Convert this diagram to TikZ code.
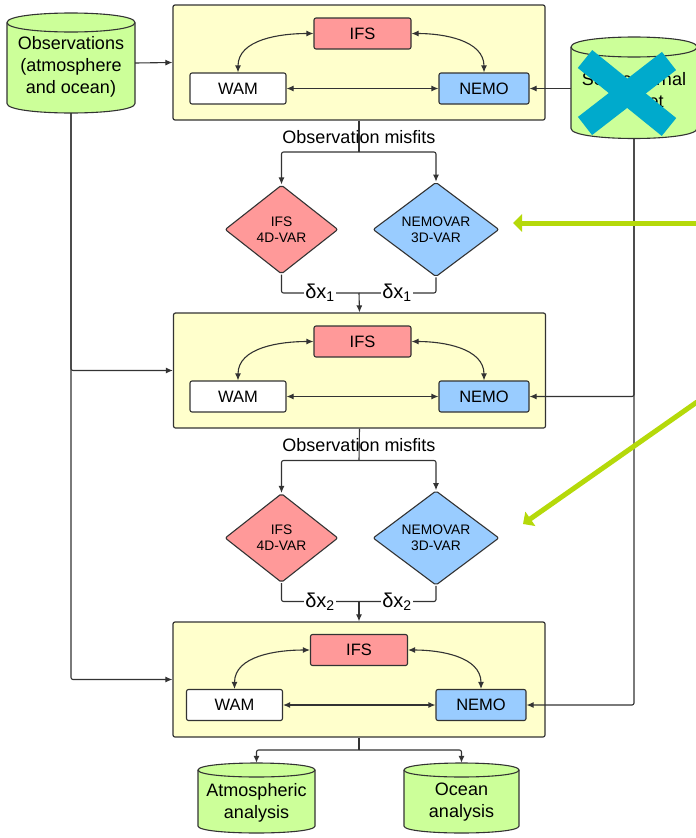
\documentclass[tikz,border=0pt]{standalone}
\usepackage{fontspec}
\setmainfont{Liberation Sans}
\usetikzlibrary{shapes.geometric,arrows.meta}
\definecolor{boxyellow}{HTML}{FFFFCC}
\definecolor{ifsred}{HTML}{FF9999}
\definecolor{nemoblue}{HTML}{99CCFF}
\definecolor{cylgreen}{HTML}{CCFF99}
\definecolor{linegray}{HTML}{333333}
\definecolor{hintgreen}{HTML}{B5D90A}
\definecolor{crossblue}{HTML}{00AACC}
\newcommand\drawcyl[5]{%
  \path[draw=linegray,fill=cylgreen,line width=1.1pt] (#1,#3) -- (#1,#4) .. controls (#1,#4+1.333*#5) and (#2,#4+1.333*#5) .. (#2,#4) -- (#2,#3) .. controls (#2,#3-1.333*#5) and (#1,#3-1.333*#5) .. (#1,#3) -- cycle;
  \draw[draw=linegray,line width=1.1pt] (#1,#3) .. controls (#1,#3+1.333*#5) and (#2,#3+1.333*#5) .. (#2,#3);}
\begin{document}
\begin{tikzpicture}[x=1pt,y=-1pt,
  frame/.style={draw=linegray, fill=boxyellow, rounded corners=2pt, line width=1.2pt, minimum width=372pt, minimum height=115pt, inner sep=0pt},
  model/.style={draw=linegray, rounded corners=2pt, line width=1.1pt, minimum height=31pt, font=\fontsize{16.5}{18}\selectfont, inner sep=0pt},
  ifsbox/.style={model, fill=ifsred, minimum width=97pt},
  wambox/.style={model, fill=white, minimum width=96pt},
  nemobox/.style={model, fill=nemoblue, minimum width=90pt},
  var/.style={diamond, draw=linegray, line width=1.1pt, minimum height=89pt, font=\fontsize{13.8}{16}\selectfont, align=center, inner sep=0pt, rounded corners=2pt},
  conn/.style={draw=linegray, line width=1.1pt, rounded corners=2pt},
  arr/.style={conn, -{Latex[length=7pt,width=6pt]}},
  dbl/.style={conn, {Latex[length=7pt,width=6pt]}-{Latex[length=7pt,width=6pt]}},
  big/.style={font=\fontsize{18}{22}\selectfont},
  cyltext/.style={big, align=center, inner sep=0pt},
  hold/.style={inner sep=0pt},
  dlabel/.style={font=\fontsize{20}{22}\selectfont, fill=white, inner sep=1.5pt},
  hint/.style={draw=hintgreen, line width=5pt, -{Triangle[length=9pt,width=17pt]}}
]
\useasboundingbox (0,0) rectangle (696,838);

% cylinders
\drawcyl{7}{135}{22.5}{103.5}{9.5}
\drawcyl{571}{697}{47}{128.5}{10}
\drawcyl{198}{315}{770}{826}{7}
\drawcyl{404}{519}{770}{826}{7}

\node[hold, minimum width=128pt, minimum height=100pt] (obs) at (71,63) {};
\node[cyltext] (obstext) at (71,66.5) {Observations\\(atmosphere\\and ocean)};
\node[hold, minimum width=126pt, minimum height=100pt] (ext) at (634,88) {};
\node[cyltext] (exttext) at (634,90.5) {SST external\\dataset};
\node[hold, minimum width=117pt, minimum height=75pt] (atm) at (256.5,800.5) {};
\node[cyltext] (atmtext) at (256.5,802.5) {Atmospheric\\analysis};
\node[hold, minimum width=115pt, minimum height=75pt] (ocn) at (461.5,800.5) {};
\node[cyltext] (ocntext) at (461.5,802.5) {Ocean\\analysis};

% cross over external dataset
\draw[crossblue, line width=23pt] (585,59) -- (669,127);
\draw[crossblue, line width=23pt] (669,61) -- (585,126);

% frames
\node[frame] (b1) at (359,62.5) {};
\node[frame] (b2) at (359.5,370.5) {};
\node[frame] (b3) at (359,679.5) {};

% models
\node[ifsbox] (ifs1) at (362.5,33.5) {IFS};
\node[wambox] (wam1) at (238,88.5) {WAM};
\node[nemobox] (nemo1) at (484,88.5) {NEMO};
\node[ifsbox] (ifs2) at (362.5,341.5) {IFS};
\node[wambox] (wam2) at (238,396.5) {WAM};
\node[nemobox] (nemo2) at (484,396.5) {NEMO};
\node[ifsbox] (ifs3) at (359,650) {IFS};
\node[wambox] (wam3) at (234.5,705) {WAM};
\node[nemobox] (nemo3) at (481,705) {NEMO};

\foreach \k in {1,2,3}{
  \draw[dbl] (ifs\k.west) to[out=180,in=90] (wam\k.north);
  \draw[dbl] (ifs\k.east) to[out=0,in=90] (nemo\k.north);
  \draw[dbl] (wam\k.east) -- (nemo\k.west);
}

% misfits labels
\coordinate (m1) at (359,152);
\coordinate (m2) at (359,460.5);

% diamonds
\node[var, fill=ifsred, minimum width=113pt] (d1a) at (281.5,229.5) {IFS\\4D-VAR};
\node[var, fill=nemoblue, minimum width=126pt] (d1b) at (436,229.5) {NEMOVAR\\3D-VAR};
\node[var, fill=ifsred, minimum width=113pt] (d2a) at (281.5,538) {IFS\\4D-VAR};
\node[var, fill=nemoblue, minimum width=126pt] (d2b) at (436,538) {NEMOVAR\\3D-VAR};

\coordinate (j1) at (359,293);
\coordinate (j2) at (359,601.5);
\coordinate (j5) at (359,750);

% box 1 -> diamonds -> box 2
\draw[conn] (b1.south) -- (m1);
\node[big] (mis1) at (359,137) {Observation misfits};
\draw[arr] (m1) -| (d1a.north);
\draw[arr] (m1) -| (d1b.north);
\draw[conn] (d1a.south) |- (j1);
\draw[conn] (d1b.south) |- (j1);
\draw[arr] (j1) -- (b2.north);
\node[dlabel] (l1a) at (320,293) {δx\textsubscript{1}};
\node[dlabel] (l1b) at (397,293) {δx\textsubscript{1}};

% box 2 -> diamonds -> box 3
\draw[conn] (b2.south) -- (m2);
\node[big] (mis2) at (359,445) {Observation misfits};
\draw[arr] (m2) -| (d2a.north);
\draw[arr] (m2) -| (d2b.north);
\draw[conn] (d2a.south) |- (j2);
\draw[conn] (d2b.south) |- (j2);
\draw[arr] (j2) -- (b3.north);
\node[dlabel] (l2a) at (320,601.5) {δx\textsubscript{2}};
\node[dlabel] (l2b) at (397,601.5) {δx\textsubscript{2}};

% observations
\draw[arr] (obs.east) -- (b1.west);
\draw[arr] (obs.south) |- (b2.west);
\draw[arr] (obs.south) |- (b3.west);

% external dataset
\draw[arr] (ext.west |- nemo1.east) -- (nemo1.east);
\draw[arr] (ext.south) |- (nemo2.east);
\draw[arr] (ext.south) |- (nemo3.east);

% outputs
\draw[conn] (b3.south) -- (j5);
\draw[arr] (j5) -| (atm.north);
\draw[arr] (j5) -| (ocn.north);

% green hint arrows
\coordinate (g1s) at (697,223);
\coordinate (g1e) at (513,223);
\coordinate (g2s) at (697,402);
\coordinate (g2e) at (523,524);
\draw[hint] (g1s) -- (g1e);
\draw[hint] (g2s) -- (g2e);
\end{tikzpicture}
\end{document}
